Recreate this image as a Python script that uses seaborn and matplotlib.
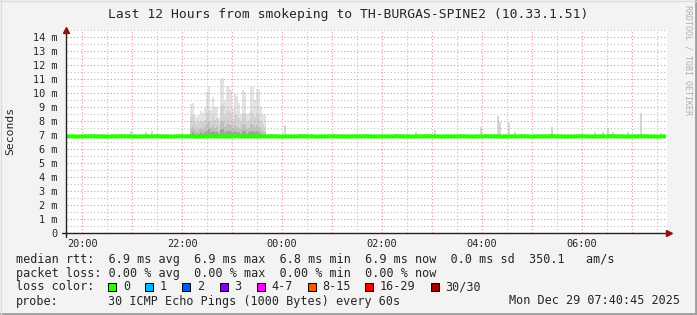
import numpy as np
import pandas as pd
import matplotlib
matplotlib.use("Agg")
import matplotlib.pyplot as plt
import seaborn as sns
from matplotlib.patches import Rectangle
from matplotlib.lines import Line2D

# ---------------- data ----------------
median_start = 19.7      # 19:42, hours
median_step = 0.1        # 6 minute bins
median_end = 31.68       # 07:40:45
median_rtt = [
    6.9, 6.9, 6.89, 6.9, 6.9, 6.91, 6.9, 6.9, 6.89, 6.9,
    6.9, 6.91, 6.9, 6.9, 6.89, 6.9, 6.9, 6.9, 6.91, 6.9,
    6.9, 6.89, 6.9, 6.91, 6.9, 6.9, 6.89, 6.9, 6.9, 6.91,
    6.9, 6.9, 6.89, 6.9, 6.91, 6.9, 6.9, 6.9, 6.89, 6.9,
    6.9, 6.91, 6.9, 6.89, 6.9, 6.9, 6.9, 6.91, 6.9, 6.9,
    6.89, 6.9, 6.9, 6.91, 6.9, 6.9, 6.89, 6.9, 6.9, 6.9,
    6.91, 6.9, 6.89, 6.9, 6.9, 6.9, 6.91, 6.9, 6.9, 6.89,
    6.9, 6.9, 6.91, 6.9, 6.9, 6.89, 6.9, 6.9, 6.9, 6.91,
    6.9, 6.89, 6.9, 6.9, 6.91, 6.9, 6.9, 6.89, 6.9, 6.9,
    6.9, 6.91, 6.9, 6.89, 6.9, 6.9, 6.9, 6.91, 6.9, 6.9,
    6.89, 6.9, 6.9, 6.91, 6.9, 6.89, 6.9, 6.9, 6.9, 6.91,
    6.9, 6.9, 6.89, 6.9, 6.9, 6.91, 6.9, 6.9, 6.89, 6.9,
]

burst_start = 22.16      # smoke burst, 2.4 minute bins
burst_step = 0.04
burst_max = [9.2, 9.3, 8.4, 8.3, 8.4, 8.7, 8.6, 8.9, 10.1, 10.5,
             8.8, 9.7, 9.0, 9.0, 8.2, 11.0, 11.1, 9.4, 10.5, 10.4,
             10.2, 8.9, 9.9, 9.8, 9.3, 8.5, 10.2, 10.1, 8.5, 8.6,
             10.5, 10.4, 9.5, 10.3, 10.2, 9.0, 8.5, 8.4]
burst_hi = [8.3, 8.4, 7.9, 7.8, 7.9, 8.0, 7.9, 8.1, 8.6, 8.8,
            8.0, 8.5, 8.1, 8.2, 7.8, 9.0, 9.2, 8.4, 8.8, 8.7,
            8.6, 8.0, 8.5, 8.4, 8.2, 7.9, 8.6, 8.5, 7.9, 8.0,
            8.7, 8.6, 8.3, 8.6, 8.5, 8.0, 7.8, 7.6]
burst_mid = [7.5, 7.6, 7.4, 7.3, 7.4, 7.5, 7.4, 7.6, 7.8, 7.9,
             7.5, 7.7, 7.5, 7.6, 7.3, 7.9, 8.0, 7.6, 7.8, 7.8,
             7.7, 7.5, 7.7, 7.6, 7.5, 7.4, 7.8, 7.7, 7.4, 7.5,
             7.8, 7.7, 7.6, 7.7, 7.6, 7.4, 7.3, 7.2]
burst_low = [7.1, 7.2, 7.1, 7.0, 7.1, 7.2, 7.1, 7.2, 7.3, 7.4,
             7.2, 7.3, 7.2, 7.2, 7.1, 7.4, 7.4, 7.2, 7.3, 7.3,
             7.3, 7.2, 7.3, 7.2, 7.2, 7.1, 7.3, 7.3, 7.1, 7.2,
             7.3, 7.3, 7.2, 7.3, 7.2, 7.1, 7.0, 7.0]
smoke_floor = 6.76

spike_hours = [20.96, 21.26, 21.38, 24.04, 24.34, 25.04, 25.32, 26.66, 27.04,
               27.96, 28.30, 28.34, 28.52, 28.64, 29.38, 30.24, 30.40, 30.50,
               30.60, 30.90, 31.16, 31.56]
spike_max = [7.3, 7.2, 7.3, 7.7, 7.1, 7.1, 7.1, 7.2, 7.35,
             7.6, 8.35, 7.95, 7.85, 7.25, 7.55, 7.2, 7.2, 7.5,
             7.25, 7.2, 8.6, 7.15]

x_ticks = [20, 22, 24, 26, 28, 30]
x_labels = ["20:00", "22:00", "00:00", "02:00", "04:00", "06:00"]
y_ticks = list(range(15))
y_labels = ["0"] + [f"{i} m" for i in range(1, 15)]

loss_labels = ["0", "1", "2", "3", "4-7", "8-15", "16-29", "30/30"]
loss_colors = ["#26ff00", "#00b8ff", "#0059ff", "#7e00ff", "#ff00ff",
               "#ff5500", "#ff0000", "#a10000"]

title = "Last 12 Hours from smokeping to TH-BURGAS-SPINE2 (10.33.1.51)"
line_rtt = "median rtt:  6.9 ms avg  6.9 ms max  6.8 ms min  6.9 ms now  0.0 ms sd  350.1   am/s"
line_loss = "packet loss: 0.00 % avg  0.00 % max  0.00 % min  0.00 % now"
probe_text = "30 ICMP Echo Pings (1000 Bytes) every 60s"
stamp = "Mon Dec 29 07:40:45 2025"

# ---------------- figure ----------------
sns.set_style("white")
MONO = "DejaVu Sans Mono"
plt.rcParams["font.family"] = [MONO]

W, H = 697, 315
fig = plt.figure(figsize=(W / 100, H / 100), dpi=100, facecolor="#f3f3f3")

def fx(x):
    return x / W

def fy(y):
    return 1 - y / H

ax = fig.add_axes([fx(67), fy(233), 600 / W, (233 - 30) / H])
ax.set_facecolor("white")
ax.set_xlim(19.7, 31.7)
ax.set_ylim(0, 14.5)

# smoke
bt = burst_start + burst_step * np.arange(len(burst_max))
layers = [(burst_max, "#e3e3e3"), (burst_hi, "#d3d3d3"),
          (burst_mid, "#bfbfbf"), (burst_low, "#a2a2a2")]
for vals, col in layers:
    ax.bar(bt, np.array(vals) - smoke_floor, bottom=smoke_floor, width=burst_step,
           align="edge", color=col, linewidth=0, zorder=1)
ax.bar(spike_hours, np.array(spike_max) - smoke_floor, bottom=smoke_floor, width=0.04,
       align="edge", color="#d6d6d6", linewidth=0, zorder=1)

# grid
ax.set_xticks(np.arange(20, 32, 1.0))
ax.set_xticks(np.arange(20.5, 31.7, 1.0), minor=True)
ax.set_yticks(y_ticks)
ax.set_yticks(np.arange(0.5, 14.6, 1.0), minor=True)
ax.grid(which="major", color="#ec8f8f", linestyle=(0, (1, 2)), linewidth=0.8, zorder=2)
ax.grid(which="minor", color="#c0c0c0", linestyle=(0, (1, 2)), linewidth=0.8, zorder=2)
ax.set_axisbelow(False)

# median line
t = median_start + median_step * np.arange(len(median_rtt))
df = pd.DataFrame({"hour": np.append(t, median_end),
                   "rtt": median_rtt + [median_rtt[-1]]})
sns.lineplot(data=df, x="hour", y="rtt", color="#26ff00",
             linewidth=3, ax=ax, zorder=4, solid_capstyle="butt")
ax.set_xlabel("")
ax.set_ylabel("")

# tick labels
xt_labels = []
for v in np.arange(20, 32, 1.0):
    if v in x_ticks:
        xt_labels.append(x_labels[x_ticks.index(v)])
    else:
        xt_labels.append("")
ax.set_xticklabels(xt_labels, fontsize=7.4, family=MONO)
ax.set_yticklabels(y_labels, fontsize=7.4, family=MONO)
ax.tick_params(axis="both", which="major", length=4, width=0.8, color="#666666",
               direction="inout")
ax.tick_params(axis="both", which="minor", length=2, width=0.6, color="#999999",
               direction="inout")
ax.tick_params(axis="x", pad=2.5)
ax.tick_params(axis="y", pad=5)
for s in ax.spines.values():
    s.set_visible(False)

# axes lines with arrows
fig.add_artist(Line2D([fx(66), fx(66)], [fy(237), fy(31)], color="#222222", lw=1))
fig.add_artist(Line2D([fx(62), fx(667)], [fy(233), fy(233)], color="#222222", lw=1))
fig.add_artist(Line2D([fx(66)], [fy(29.5)], marker="^", markersize=5,
                      color="#8b1010", lw=0))
fig.add_artist(Line2D([fx(669)], [fy(233)], marker=">", markersize=5,
                      color="#8b1010", lw=0))

# texts
fig.text(fx(348), fy(14.5), title, ha="center", va="center", fontsize=9.4, family=MONO)
fig.text(fx(10), fy(131), "Seconds", rotation=90, ha="center", va="center",
         fontsize=8.2, family=MONO)
fig.text(fx(688), fy(60), "RRDTOOL / TOBI OETIKER", rotation=270, ha="center",
         va="center", fontsize=6, family=MONO, color="#b0b0b0")

LF = 8.5
fig.text(fx(16), fy(259), line_rtt, ha="left", va="center", fontsize=LF, family=MONO)
fig.text(fx(16), fy(273), line_loss, ha="left", va="center", fontsize=LF, family=MONO)
fig.text(fx(16), fy(287), "loss color:", ha="left", va="center", fontsize=LF, family=MONO)
fig.text(fx(16), fy(301), "probe:", ha="left", va="center", fontsize=LF, family=MONO)
fig.text(fx(107.5), fy(301), probe_text, ha="left", va="center", fontsize=LF, family=MONO)
fig.text(fx(680), fy(301), stamp, ha="right", va="center", fontsize=LF, family=MONO)

box_x = [108, 145, 182, 219.5, 257, 307.5, 365, 431]
lab_x = [123, 160, 197, 234, 271, 322, 380, 445]
for bx, lx, lab, col in zip(box_x, lab_x, loss_labels, loss_colors):
    fig.add_artist(Rectangle((fx(bx), fy(291)), 8 / W, 8 / H, facecolor=col,
                             edgecolor="black", linewidth=0.7))
    fig.text(fx(lx), fy(287), lab, ha="left", va="center", fontsize=LF, family=MONO)

# frame shading
fig.add_artist(Line2D([0, 1], [fy(314), fy(314)], color="#9e9e9e", lw=2))
fig.add_artist(Line2D([fx(696), fx(696)], [0, 1], color="#9e9e9e", lw=2))
fig.add_artist(Line2D([0, 1], [fy(0.5), fy(0.5)], color="#dcdcdc", lw=1))
fig.add_artist(Line2D([fx(0.5), fx(0.5)], [0, 1], color="#dcdcdc", lw=1))

fig.savefig("out.png", dpi=100, facecolor=fig.get_facecolor())
